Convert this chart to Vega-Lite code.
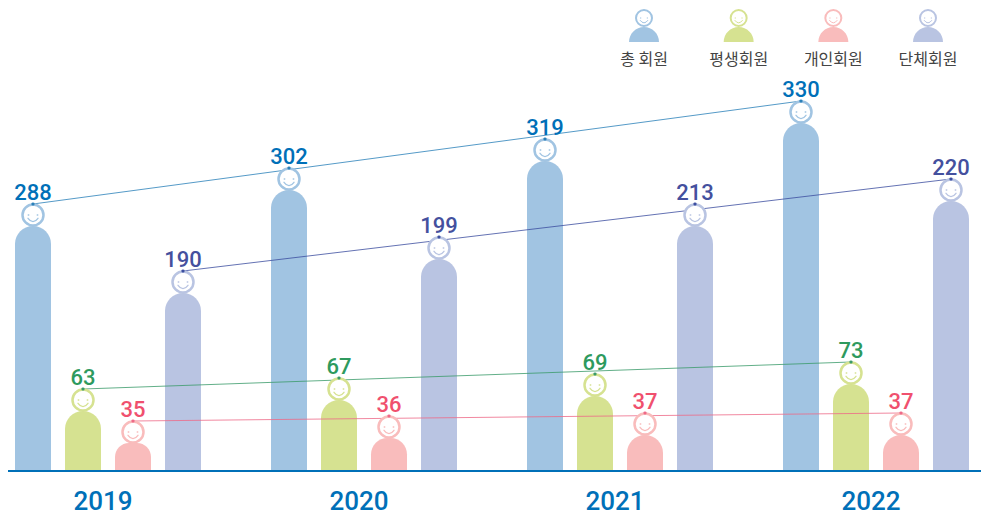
{"$schema":"https://vega.github.io/schema/vega-lite/v6.json","width":973,"height":471,"padding":{"left":8,"right":3,"top":0,"bottom":46},"autosize":"none","background":"white","config":{"view":{"stroke":null}},"datasets":{"rows":[{"year":2019,"series":"총 회원","value":288,"drawn":245},{"year":2019,"series":"평생회원","value":63,"drawn":60},{"year":2019,"series":"개인회원","value":35,"drawn":28},{"year":2019,"series":"단체회원","value":190,"drawn":178},{"year":2020,"series":"총 회원","value":302,"drawn":281},{"year":2020,"series":"평생회원","value":67,"drawn":71},{"year":2020,"series":"개인회원","value":36,"drawn":33},{"year":2020,"series":"단체회원","value":199,"drawn":212},{"year":2021,"series":"총 회원","value":319,"drawn":310},{"year":2021,"series":"평생회원","value":69,"drawn":75},{"year":2021,"series":"개인회원","value":37,"drawn":36},{"year":2021,"series":"단체회원","value":213,"drawn":245},{"year":2022,"series":"총 회원","value":330,"drawn":348},{"year":2022,"series":"평생회원","value":73,"drawn":87},{"year":2022,"series":"개인회원","value":37,"drawn":36},{"year":2022,"series":"단체회원","value":220,"drawn":270}],"keys":[{"series":"총 회원"},{"series":"평생회원"},{"series":"개인회원"},{"series":"단체회원"}]},"resolve":{"scale":{"x":"independent"}},"layer":[{"data":{"name":"rows"},"encoding":{"x":{"field":"year","type":"ordinal","scale":{"type":"band","range":[-28,996],"paddingInner":0,"paddingOuter":0},"axis":{"domain":false,"title":null,"grid":false,"ticks":false,"labelAngle":0,"labelOffset":-5,"labelPadding":30,"labelFont":"Roboto","labelFontWeight":500,"labelFontSize":26,"labelColor":"#0070b8","labelBaseline":"middle"}},"xOffset":{"field":"series","type":"nominal","sort":null,"scale":{"domain":["총 회원","평생회원","개인회원","단체회원"],"paddingInner":0.28,"paddingOuter":0.7}},"y":{"field":"drawn","type":"quantitative","stack":null,"scale":{"domain":[0,471],"nice":false},"axis":null}},"layer":[{"mark":{"type":"bar","cornerRadiusTopLeft":18,"cornerRadiusTopRight":18},"encoding":{"color":{"field":"series","type":"nominal","legend":null,"scale":{"domain":["총 회원","평생회원","개인회원","단체회원"],"range":["#a1c4e2","#d6e291","#f9bcbc","#b9c4e2"]}}}},{"transform":[{"filter":"datum.year==2019||datum.year==2022"}],"mark":{"type":"line","strokeWidth":0.8},"encoding":{"yOffset":{"value":-22},"stroke":{"field":"series","type":"nominal","legend":null,"scale":{"domain":["총 회원","평생회원","개인회원","단체회원"],"range":["#2a80b9","#3a9a6a","#ee6a88","#3c4ea0"]}}}},{"mark":{"type":"point","filled":true,"shape":"circle","size":441,"color":"white","opacity":1},"encoding":{"yOffset":{"value":-11}}},{"mark":{"type":"point","filled":false,"shape":"circle","size":441,"strokeWidth":2.5,"opacity":1},"encoding":{"yOffset":{"value":-11},"color":{"field":"series","type":"nominal","legend":null}}},{"mark":{"type":"point","filled":false,"shape":"M-0.5,0.33 Q0,1.0 0.5,0.33 M-0.48,0 L-0.42,0 M0.42,0 L0.48,0","size":400,"strokeWidth":1.3,"strokeCap":"round","opacity":1},"encoding":{"yOffset":{"value":-11},"color":{"field":"series","type":"nominal","legend":null}}},{"mark":{"type":"point","filled":false,"shape":"circle","size":3,"strokeWidth":1.5,"opacity":1},"encoding":{"yOffset":{"value":-22},"stroke":{"field":"series","type":"nominal","legend":null}}},{"mark":{"type":"text","font":"Roboto","fontSize":22,"fontWeight":500,"baseline":"middle","align":"center"},"encoding":{"yOffset":{"value":-33.5},"text":{"field":"value","type":"quantitative"},"fill":{"field":"series","type":"nominal","legend":null,"scale":{"domain":["총 회원","평생회원","개인회원","단체회원"],"range":["#0070b8","#2e9a5e","#f0506e","#44509e"]}}}}]},{"data":{"name":"keys"},"encoding":{"x":{"field":"series","type":"nominal","sort":null,"scale":{"type":"point","domain":["총 회원","평생회원","개인회원","단체회원"],"range":[636,920],"padding":0},"axis":null}},"layer":[{"mark":{"type":"point","filled":true,"opacity":1,"shape":"M-1,0.5 A1,1 0 0 1 1,0.5 Z","size":900},"encoding":{"y":{"datum":436.5},"color":{"field":"series","type":"nominal","legend":null}}},{"mark":{"type":"point","filled":false,"shape":"circle","size":256,"strokeWidth":2,"opacity":1},"encoding":{"y":{"datum":453},"color":{"field":"series","type":"nominal","legend":null}}},{"mark":{"type":"point","filled":false,"shape":"M-0.5,0.33 Q0,1.0 0.5,0.33 M-0.48,0 L-0.42,0 M0.42,0 L0.48,0","size":225,"strokeWidth":1,"strokeCap":"round","opacity":1},"encoding":{"y":{"datum":453},"color":{"field":"series","type":"nominal","legend":null}}},{"mark":{"type":"text","font":"Noto Sans CJK KR","fontSize":16,"color":"#444444","baseline":"middle","align":"center"},"encoding":{"y":{"datum":411},"text":{"field":"series","type":"nominal"}}}]},{"data":{"values":[{"from":0,"to":1}]},"mark":{"type":"rule","color":"#0070b8","strokeWidth":2},"encoding":{"x":{"field":"from","type":"quantitative","scale":{"domain":[0,1],"nice":false},"axis":null},"x2":{"field":"to"},"y":{"datum":0}}}]}
